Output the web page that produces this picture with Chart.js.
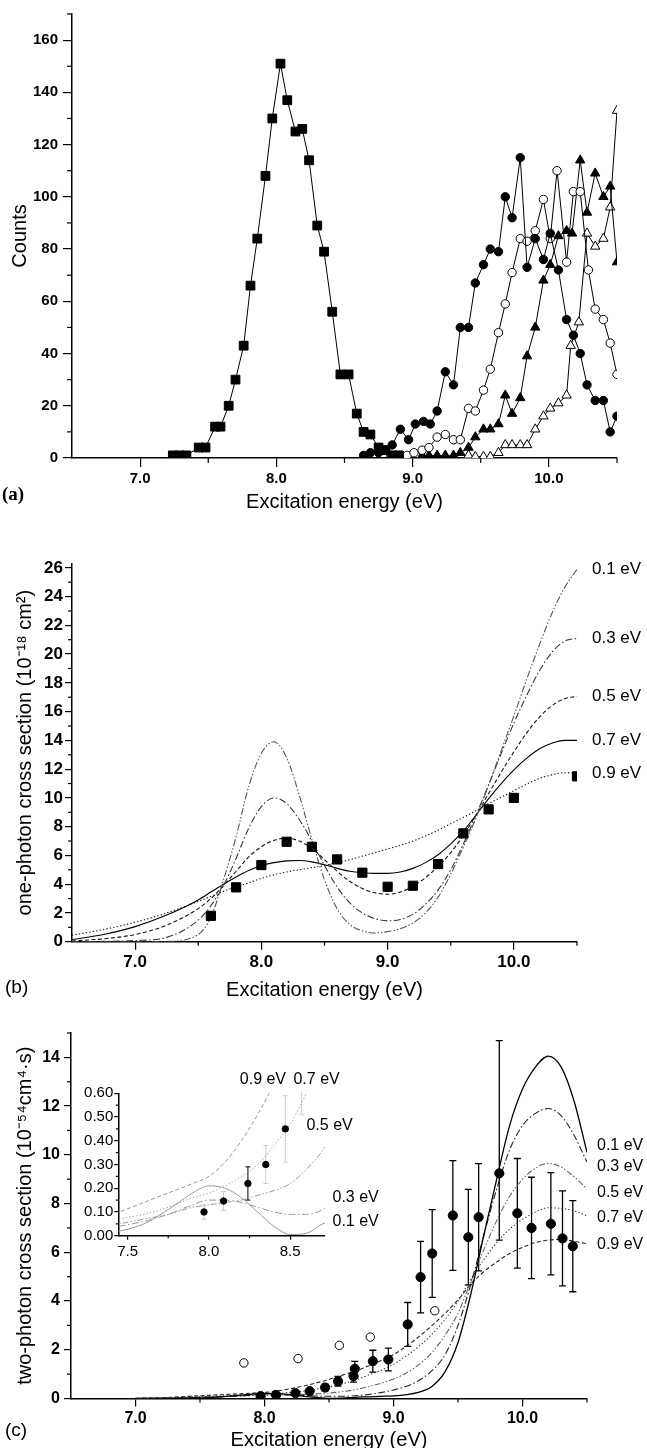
<!DOCTYPE html>
<html>
<head>
<meta charset="utf-8">
<script src="https://cdn.jsdelivr.net/npm/chart.js@4.4.1/dist/chart.umd.min.js"></script>
<style>
  html, body { margin: 0; padding: 0; background: #fff; overflow: hidden; }
  #page { position: relative; width: 647px; height: 1448px; }
  canvas { position: absolute; left: 0; }
  .tag { position: absolute; font-family: 'Liberation Sans', Arial, sans-serif; font-size: 19px; color: #000; line-height: 22px; }
</style>
</head>
<body>
<div id="page">
  <canvas id="chartA" width="647" height="516" style="top:0px"></canvas>
  <canvas id="chartB" width="647" height="499" style="top:505px"></canvas>
  <canvas id="chartC" width="647" height="456" style="top:1004px"></canvas>
  <canvas id="chartD" width="400" height="210" style="top:1060px"></canvas>
  <div class="tag" style="left:2px;top:483px;font-family:'Liberation Serif',serif;font-weight:bold;">(a)</div>
  <div class="tag" style="left:5px;top:976px;">(b)</div>
  <div class="tag" style="left:5px;top:1419px;">(c)</div>
</div>
<script>
// ---- panel (a): counts vs excitation energy ----
const aSqX = [7.24, 7.29, 7.34, 7.43, 7.48, 7.55, 7.59, 7.65, 7.70, 7.76, 7.81, 7.86, 7.92, 7.97, 8.03, 8.08, 8.14, 8.19, 8.24, 8.30, 8.35, 8.41, 8.47, 8.53, 8.59, 8.64, 8.69, 8.75, 8.80, 8.85, 8.90];
const aSqY = [1, 1, 1, 4, 4, 12, 12, 20, 30, 43, 66, 84, 108, 130, 151, 137, 125, 126, 114, 89, 79, 56, 32, 32, 17, 10, 9, 4, 3, 1, 1];
const aCfX = [8.64, 8.69, 8.75, 8.80, 8.85, 8.91, 8.97, 9.02, 9.08, 9.13, 9.18, 9.24, 9.30, 9.35, 9.41, 9.46, 9.52, 9.57, 9.63, 9.68, 9.73, 9.79, 9.84, 9.90, 9.96, 10.01, 10.07, 10.13, 10.18, 10.23, 10.28, 10.34, 10.40, 10.45, 10.50];
const aCfY = [1, 2, 2, 3, 5, 11, 7, 13, 14, 13, 18, 33, 28, 50, 50, 67, 74, 80, 79, 100, 92, 115, 73, 84, 76, 86, 72, 53, 47, 40, 28, 22, 22, 10, 16];
const aCoX = [8.84, 8.90, 8.96, 9.01, 9.07, 9.12, 9.18, 9.24, 9.30, 9.35, 9.41, 9.46, 9.52, 9.57, 9.63, 9.68, 9.73, 9.79, 9.84, 9.90, 9.96, 10.01, 10.06, 10.13, 10.18, 10.23, 10.29, 10.34, 10.40, 10.45, 10.50];
const aCoY = [1, 1, 1, 2, 3, 4, 8, 9, 7, 7, 19, 18, 26, 34, 48, 59, 71, 84, 83, 87, 99, 84, 110, 75, 102, 102, 72, 57, 53, 44, 32];
const aTfX = [9.07, 9.12, 9.18, 9.24, 9.30, 9.35, 9.41, 9.46, 9.52, 9.57, 9.63, 9.68, 9.73, 9.79, 9.84, 9.90, 9.96, 10.01, 10.07, 10.13, 10.17, 10.23, 10.28, 10.34, 10.40, 10.45, 10.50];
const aTfY = [1, 1, 1, 1, 1, 2, 4, 8, 11, 11, 13, 24, 17, 23, 39, 50, 68, 74, 85, 87, 86, 114, 94, 109, 100, 104, 75];
const aToX = [9.41, 9.46, 9.52, 9.57, 9.63, 9.68, 9.73, 9.79, 9.84, 9.90, 9.96, 10.01, 10.07, 10.13, 10.16, 10.22, 10.28, 10.34, 10.40, 10.45, 10.50];
const aToY = [1, 0.5, 0.5, 0.5, 2, 5, 5, 5, 5, 11, 16, 19, 21, 24, 43, 52, 86, 81, 84, 96, 133];

// ---- panel (b): one-photon cross section ----
const bPtX = [7.6, 7.8, 8.0, 8.2, 8.4, 8.6, 8.8, 9.0, 9.2, 9.4, 9.6, 9.8, 10.0, 10.5];
const bPtY = [1.8, 3.78, 5.33, 6.95, 6.6, 5.72, 4.8, 3.82, 3.89, 5.4, 7.53, 9.2, 10.0, 11.5];
const bCurveX = [6.5, 6.75, 7.0, 7.25, 7.5, 7.6, 7.7, 7.8, 7.9, 8.0, 8.1, 8.2, 8.3, 8.4, 8.5, 8.6, 8.7, 8.8, 8.9, 9.0, 9.1, 9.2, 9.3, 9.4, 9.5, 9.6, 9.7, 9.8, 9.9, 10.0, 10.1, 10.2, 10.3, 10.4, 10.5];
const bW01 = [0, 0, 0, 0.02, 0.5, 1.7, 4.3, 7.3, 10.8, 13.1, 13.9, 12.8, 10.2, 7.1, 4.3, 2.3, 1.2, 0.75, 0.6, 0.7, 0.9, 1.3, 2.0, 3.1, 4.7, 6.6, 8.6, 10.9, 13.3, 15.7, 18.2, 20.6, 22.8, 24.6, 25.9];
const bW03 = [0, 0.02, 0.08, 0.3, 1.5, 2.5, 3.9, 5.8, 7.9, 9.4, 10.0, 9.6, 8.5, 7.0, 5.3, 3.8, 2.7, 2.0, 1.6, 1.45, 1.55, 1.9, 2.6, 3.6, 5.0, 6.8, 8.8, 10.9, 13.1, 15.2, 17.1, 18.8, 20.1, 20.9, 21.1];
const bW05 = [0.05, 0.2, 0.5, 1.15, 2.3, 3.0, 3.9, 4.9, 5.9, 6.6, 7.05, 7.2, 7.0, 6.5, 5.7, 4.9, 4.2, 3.7, 3.4, 3.3, 3.45, 3.85, 4.45, 5.25, 6.2, 7.4, 8.8, 10.3, 11.8, 13.2, 14.5, 15.6, 16.4, 16.9, 17.05];
const bW07 = [0.15, 0.5, 1.05, 1.85, 2.9, 3.45, 4.0, 4.5, 4.95, 5.3, 5.5, 5.62, 5.65, 5.55, 5.35, 5.1, 4.9, 4.8, 4.75, 4.75, 4.85, 5.1, 5.5, 6.05, 6.8, 7.7, 8.8, 9.95, 11.0, 11.95, 12.75, 13.4, 13.8, 14.0, 14.0];
const bW09 = [0.45, 0.85, 1.35, 2.0, 2.8, 3.15, 3.5, 3.82, 4.1, 4.4, 4.65, 4.85, 5.0, 5.15, 5.3, 5.5, 5.7, 5.95, 6.2, 6.45, 6.7, 7.0, 7.35, 7.75, 8.2, 8.65, 9.1, 9.6, 10.05, 10.5, 10.95, 11.35, 11.6, 11.75, 11.7];

// ---- panel (c): two-photon cross section ----
const cCurveX = [7.0, 7.2, 7.45, 7.6, 7.75, 7.9, 8.0, 8.1, 8.2, 8.3, 8.4, 8.5, 8.6, 8.7, 8.8, 8.9, 9.0, 9.1, 9.2, 9.3, 9.4, 9.5, 9.6, 9.7, 9.8, 9.9, 10.0, 10.1, 10.2, 10.3, 10.4, 10.5];
const cW01 = [0, 0.005, 0.02, 0.05, 0.11, 0.18, 0.21, 0.20, 0.16, 0.10, 0.04, 0.005, 0.01, 0.05, 0.07, 0.09, 0.11, 0.16, 0.26, 0.5, 1.1, 2.3, 4.3, 6.7, 9.0, 11.2, 12.7, 13.6, 14.05, 13.6, 12.2, 10.1];
const cW03 = [0, 0.01, 0.04, 0.06, 0.09, 0.13, 0.15, 0.15, 0.14, 0.12, 0.10, 0.09, 0.09, 0.11, 0.16, 0.24, 0.35, 0.5, 0.75, 1.15, 1.8, 3.0, 4.7, 6.7, 8.6, 10.2, 11.2, 11.7, 11.9, 11.6, 10.8, 9.7];
const cW05 = [0, 0.015, 0.05, 0.07, 0.09, 0.12, 0.13, 0.14, 0.15, 0.17, 0.19, 0.22, 0.28, 0.36, 0.48, 0.62, 0.8, 1.05, 1.4, 1.9, 2.6, 3.5, 4.8, 6.1, 7.3, 8.3, 9.0, 9.45, 9.65, 9.5, 9.1, 8.6];
const cW07 = [0, 0.02, 0.07, 0.09, 0.12, 0.16, 0.18, 0.21, 0.25, 0.30, 0.38, 0.47, 0.60, 0.75, 0.95, 1.15, 1.4, 1.75, 2.15, 2.65, 3.25, 4.0, 4.9, 5.7, 6.4, 6.95, 7.35, 7.65, 7.83, 7.8, 7.7, 7.5];
const cW09 = [0.01, 0.03, 0.10, 0.14, 0.18, 0.22, 0.25, 0.31, 0.40, 0.51, 0.64, 0.78, 0.95, 1.12, 1.32, 1.55, 1.8, 2.15, 2.55, 3.0, 3.5, 4.05, 4.7, 5.2, 5.6, 5.95, 6.2, 6.4, 6.5, 6.53, 6.45, 6.35];
const cPtX = [7.97, 8.09, 8.24, 8.35, 8.47, 8.57, 8.69, 8.70, 8.84, 8.96, 9.11, 9.21, 9.30, 9.46, 9.58, 9.66, 9.82, 9.96, 10.07, 10.22, 10.31, 10.39];
const cPtY = [0.10, 0.146, 0.22, 0.30, 0.45, 0.71, 0.92, 1.22, 1.53, 1.6, 3.04, 4.98, 5.95, 7.51, 6.62, 7.44, 9.24, 7.6, 7.0, 7.17, 6.57, 6.25];
const cErrUp = [0.03, 0.04, 0.07, 0.08, 0.14, 0.2, 0.25, 0.3, 0.45, 0.47, 0.9, 1.47, 1.8, 2.25, 1.96, 2.2, 5.45, 2.25, 2.08, 2.1, 1.95, 1.87];
const cErrDn = [0.03, 0.04, 0.07, 0.08, 0.14, 0.2, 0.25, 0.3, 0.45, 0.47, 0.9, 1.47, 1.8, 2.25, 1.96, 2.2, 2.74, 2.25, 2.08, 2.1, 1.95, 1.87];
const cOpenX = [7.84, 8.26, 8.58, 8.82, 9.32];
const cOpenY = [1.46, 1.64, 2.18, 2.52, 3.6];

// ---- ticks and labels ----
const xMajor = [7, 8, 9, 10];
const xMinor = [7.5, 8.5, 9.5, 10.5];
const aYMajor = [0, 20, 40, 60, 80, 100, 120, 140, 160];
const aYMinor = [10, 30, 50, 70, 90, 110, 130, 150, 170];
const bYMajor = [0, 2, 4, 6, 8, 10, 12, 14, 16, 18, 20, 22, 24, 26];
const bYMinor = [1, 3, 5, 7, 9, 11, 13, 15, 17, 19, 21, 23, 25];
const cYMajor = [0, 2, 4, 6, 8, 10, 12, 14];
const cYMinor = [1, 3, 5, 7, 9, 11, 13, 15];
const inXMajor = [7.5, 8.0, 8.5];
const inXMinor = [7.75, 8.25];
const inYMajor = [0, 0.1, 0.2, 0.3, 0.4, 0.5, 0.6];
const inYMinor = [0.05, 0.15, 0.25, 0.35, 0.45, 0.55];
const widthLabels = ['0.1 eV', '0.3 eV', '0.5 eV', '0.7 eV', '0.9 eV'];

const FONT = "'Liberation Sans', Arial, sans-serif";
Chart.defaults.font.family = FONT;
Chart.defaults.color = '#000';

const pts = (xs, ys) => xs.map((x, i) => ({ x, y: ys[i] }));

// error bars, minor ticks and text annotations
const decor = {
  id: 'decor',
  beforeDatasetsDraw(chart) {
    const { ctx, chartArea: ca } = chart;
    const xs = chart.scales.x, ys = chart.scales.y;
    ctx.save();
    ctx.beginPath();
    ctx.rect(ca.left, ca.top - 1, ca.right - ca.left, ca.bottom - ca.top + 1);
    ctx.clip();
    chart.data.datasets.forEach(ds => {
      if (!ds.errUp) return;
      ctx.lineWidth = ds.errWidth || 1.2;
      const cap = ds.errCap || 3.5;
      ds.data.forEach((p, j) => {
        const x = xs.getPixelForValue(p.x);
        const y1 = ys.getPixelForValue(p.y + ds.errUp[j]);
        const y2 = ys.getPixelForValue(p.y - ds.errDn[j]);
        ctx.strokeStyle = typeof ds.errColor === 'function' ? ds.errColor(j) : (ds.errColor || '#000');
        ctx.beginPath();
        ctx.moveTo(x, y1); ctx.lineTo(x, y2);
        ctx.moveTo(x - cap, y1); ctx.lineTo(x + cap, y1);
        ctx.moveTo(x - cap, y2); ctx.lineTo(x + cap, y2);
        ctx.stroke();
      });
    });
    ctx.restore();
  },
  afterDraw(chart, args, o) {
    const { ctx, chartArea: ca } = chart;
    const xs = chart.scales.x, ys = chart.scales.y;
    ctx.save();
    ctx.strokeStyle = '#000';
    ctx.lineWidth = 1.2;
    (o.minorX || []).forEach(v => {
      const px = xs.getPixelForValue(v);
      ctx.beginPath(); ctx.moveTo(px, ca.bottom); ctx.lineTo(px, ca.bottom + o.minorLen); ctx.stroke();
    });
    (o.minorY || []).forEach(v => {
      const py = ys.getPixelForValue(v);
      ctx.beginPath(); ctx.moveTo(ca.left, py); ctx.lineTo(ca.left - o.minorLen, py); ctx.stroke();
    });
    ctx.fillStyle = '#000';
    ctx.textBaseline = 'middle';
    ctx.textAlign = 'left';
    if (o.labelFont) ctx.font = o.labelFont;
    chart.data.datasets.forEach(ds => {
      if (!ds.endLabel) return;
      const last = ds.data[ds.data.length - 1];
      ctx.fillText(ds.endLabel, ca.right + o.labelDx, ys.getPixelForValue(last.y) + (ds.labelDy || 0));
    });
    (o.notes || []).forEach(n => ctx.fillText(n.text, xs.getPixelForValue(n.x), ys.getPixelForValue(n.y)));
    ctx.restore();
  }
};

function linAxis(min, max, majors, fmt, st) {
  return {
    type: 'linear', min, max,
    afterBuildTicks: s => { s.ticks = majors.map(v => ({ value: v })); },
    afterFit: s => {
      if (s.isHorizontal()) s.height = st.box; else s.width = st.box;
      s.paddingLeft = s.paddingRight = s.paddingTop = s.paddingBottom = 0;
    },
    ticks: { autoSkip: false, maxRotation: 0, padding: st.pad, font: st.font, color: '#000', callback: v => fmt(v) },
    grid: { drawOnChartArea: false, drawTicks: true, tickLength: st.tick, color: '#000', lineWidth: 1.2 },
    border: { display: true, color: '#000', width: 1.5 },
    title: st.title
      ? { display: true, text: st.title, font: st.titleFont, padding: st.titlePad, color: '#000' }
      : { display: false }
  };
}

function makeChart(id, top, area, x, y, datasets, decorOpts) {
  const cv = document.getElementById(id);
  return new Chart(cv, {
    type: 'line',
    data: { datasets },
    options: {
      responsive: false, animation: false, devicePixelRatio: 1,
      layout: { autoPadding: false, padding: { left: 0, right: cv.width - area.r, top: area.t - top, bottom: 0 } },
      plugins: { legend: { display: false }, tooltip: { enabled: false }, decor: decorOpts },
      scales: { x, y }
    },
    plugins: [decor]
  });
}

const fmt1 = v => v.toFixed(1);
const fmt2 = v => v.toFixed(2);
const fmt0 = v => String(v);

// ---------- (a) ----------
const symLine = { showLine: true, borderColor: '#000', borderWidth: 1, pointBorderColor: '#000', pointBorderWidth: 1, tension: 0 };
makeChart('chartA', 0, { l: 72, t: 14, r: 617, b: 458 },
  linAxis(6.5, 10.5, xMajor, fmt1, { box: 58, pad: 3, tick: 9, font: { size: 15, weight: 'bold' },
    title: 'Excitation energy (eV)', titleFont: { size: 20 }, titlePad: { top: 0, bottom: 2 } }),
  linAxis(0, 170, aYMajor, fmt0, { box: 72, pad: 5, tick: 9, font: { size: 15, weight: 'bold' },
    title: 'Counts', titleFont: { size: 20 }, titlePad: { top: 8, bottom: 0 } }),
  [
    { data: pts(aSqX, aSqY), pointStyle: 'rect', pointRadius: 6.2, pointBackgroundColor: '#000', ...symLine },
    { data: pts(aCfX, aCfY), pointStyle: 'circle', pointRadius: 4.2, pointBackgroundColor: '#000', ...symLine },
    { data: pts(aCoX, aCoY), pointStyle: 'circle', pointRadius: 4.2, pointBackgroundColor: '#fff', ...symLine },
    { data: pts(aTfX, aTfY), pointStyle: 'triangle', pointRadius: 5.4, pointBackgroundColor: '#000', ...symLine },
    { data: pts(aToX, aToY), pointStyle: 'triangle', pointRadius: 5.4, pointBackgroundColor: '#fff', ...symLine }
  ],
  { minorX: xMinor, minorY: aYMinor, minorLen: 5 });

// ---------- (b) ----------
const curve = { showLine: true, pointRadius: 0, borderWidth: 1.1, cubicInterpolationMode: 'monotone', fill: false };
const bStyle = [
  { borderColor: '#555', borderDash: [7, 2, 1.5, 2, 1.5, 2] },
  { borderColor: '#333', borderDash: [7, 2.5, 1.5, 2.5] },
  { borderColor: '#111', borderDash: [4, 2.5] },
  { borderColor: '#000', borderDash: [] },
  { borderColor: '#111', borderDash: [1.3, 2.2] }
];
const bSeries = [bW01, bW03, bW05, bW07, bW09];
makeChart('chartB', 505, { l: 72, t: 563.5, r: 577, b: 941.7 },
  linAxis(6.5, 10.5, xMajor, fmt1, { box: 62.3, pad: 2, tick: 8, font: { size: 17, weight: 'bold' },
    title: 'Excitation energy (eV)', titleFont: { size: 20 }, titlePad: { top: 0, bottom: 2 } }),
  linAxis(0, 26.3, bYMajor, fmt0, { box: 72, pad: 2, tick: 7, font: { size: 17, weight: 'bold' },
    title: 'one-photon cross section (10\u207B\u00B9\u2078 cm\u00B2)', titleFont: { size: 20 }, titlePad: { top: 13, bottom: 0 } }),
  [
    { data: pts(bPtX, bPtY), showLine: false, pointStyle: 'rect', pointRadius: 6.5, pointBackgroundColor: '#000', pointBorderColor: '#000' },
    ...bSeries.map((s, i) => ({ data: pts(bCurveX, s), endLabel: widthLabels[i], ...curve, ...bStyle[i] }))
  ],
  { minorX: xMinor, minorY: bYMinor, minorLen: 4, labelDx: 15, labelFont: '17px ' + FONT });

// ---------- (c) ----------
const cStyle = [
  { borderColor: '#000', borderDash: [], borderWidth: 1.3 },
  { borderColor: '#222', borderDash: [7, 2.5, 1.5, 2.5] },
  { borderColor: '#666', borderDash: [6, 2, 1.5, 2, 1.5, 2] },
  { borderColor: '#333', borderDash: [1.3, 2.2] },
  { borderColor: '#222', borderDash: [4, 2.5] }
];
const cLabelDy = [-7, 4, 3.5, 2, 1];
const cSeries = [cW01, cW03, cW05, cW07, cW09];
makeChart('chartC', 1004, { l: 71, t: 1033, r: 587, b: 1398.5 },
  linAxis(6.5, 10.5, xMajor, fmt1, { box: 61.5, pad: 2, tick: 8, font: { size: 16, weight: 'bold' },
    title: 'Excitation energy (eV)', titleFont: { size: 20 }, titlePad: { top: 0, bottom: 8 } }),
  linAxis(0, 15, cYMajor, fmt0, { box: 71, pad: 4, tick: 7, font: { size: 16, weight: 'bold' },
    title: 'two-photon cross section (10\u207B\u2075\u2074cm\u2074\u00B7s)', titleFont: { size: 20 }, titlePad: { top: 13, bottom: 0 } }),
  [
    { data: pts(cPtX, cPtY), showLine: false, pointStyle: 'circle', pointRadius: 4.6, pointBackgroundColor: '#000', pointBorderColor: '#000',
      errUp: cErrUp, errDn: cErrDn, errCap: 3.5, errWidth: 1.3 },
    { data: pts(cOpenX, cOpenY), showLine: false, pointStyle: 'circle', pointRadius: 4.2, pointBackgroundColor: '#fff', pointBorderColor: '#000', pointBorderWidth: 1 },
    ...cSeries.map((s, i) => ({ data: pts(cCurveX, s), endLabel: widthLabels[i], labelDy: cLabelDy[i], ...curve, ...cStyle[i] }))
  ],
  { minorX: xMinor, minorY: cYMinor, minorLen: 4, labelDx: 10, labelFont: '16px ' + FONT });

// ---------- (c) inset ----------
const inStyle = cStyle.map(s => ({ ...s, borderColor: '#999', borderWidth: 1 }));
makeChart('chartD', 1060, { l: 118.3, t: 1093.3, r: 325, b: 1235.7 },
  linAxis(7.443, 8.714, inXMajor, fmt1, { box: 34.3, pad: 3, tick: 4, font: { size: 15 } }),
  linAxis(0, 0.6, inYMajor, fmt2, { box: 118.3, pad: 1, tick: 4, font: { size: 15 } }),
  [
    { data: pts(cPtX, cPtY), showLine: false, pointStyle: 'circle', pointRadius: 3.2, pointBackgroundColor: '#000', pointBorderColor: '#000',
      errUp: cErrUp, errDn: cErrDn, errCap: 2.5, errWidth: 1, errColor: j => (j === 2 ? '#000' : '#ccc') },
    ...cSeries.map((s, i) => ({ data: pts(cCurveX, s), ...curve, ...inStyle[i] }))
  ],
  { minorX: inXMinor, minorY: inYMinor, minorLen: 2.5, labelFont: '16px ' + FONT,
    notes: [
      { text: widthLabels[4], x: 8.19, y: 0.657 },
      { text: widthLabels[3], x: 8.52, y: 0.657 },
      { text: widthLabels[2], x: 8.60, y: 0.463 },
      { text: widthLabels[1], x: 8.76, y: 0.159 },
      { text: widthLabels[0], x: 8.76, y: 0.058 }
    ] });
</script>
</body>
</html>
